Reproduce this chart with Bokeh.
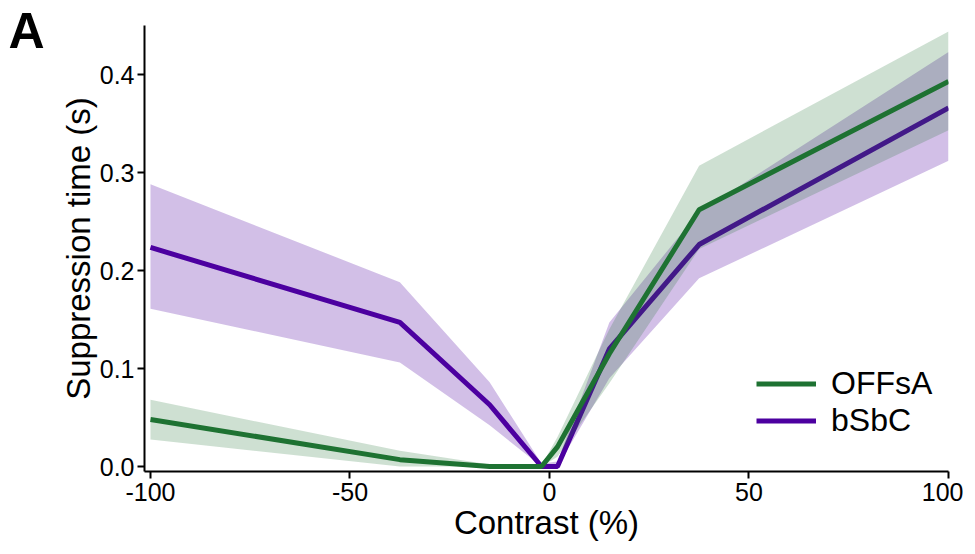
from bokeh.plotting import figure
from bokeh.models import (Range1d, Legend, LegendItem, LinearAxis, FixedTicker,
                          CustomJSTickFormatter)
from bokeh.embed import file_html
from bokeh.resources import INLINE

contrast = [-100, -37.5, -15, -2, 2, 15, 37.5, 100]
offsa_mean = [0.048, 0.007, 0.0, 0.0, 0.02, 0.115, 0.262, 0.393]
offsa_lo = [0.0275, 0.0, 0.0, 0.0, 0.01, 0.085, 0.222, 0.343]
offsa_hi = [0.068, 0.016, 0.002, 0.001, 0.03, 0.14, 0.307, 0.444]
bsbc_mean = [0.2235, 0.147, 0.063, 0.0, 0.0, 0.12, 0.2265, 0.366]
bsbc_lo = [0.161, 0.106, 0.042, 0.0, 0.0, 0.09, 0.192, 0.312]
bsbc_hi = [0.288, 0.188, 0.086, 0.003, 0.005, 0.147, 0.26, 0.423]

x_ticks = [-100, -50, 0, 50, 100]
y_ticks = [0.0, 0.1, 0.2, 0.3, 0.4]
panel_letter = "A"
panel_letter_y = [0.4495]

GREEN = "#1E7232"
PURPLE = "#4C00A0"
FONT = "Liberation Sans"

p = figure(width=963, height=546, output_backend="svg", toolbar_location=None,
           x_range=Range1d(-101.5, 100), y_range=Range1d(-0.0051, 0.45),
           min_border_left=144, min_border_top=25, min_border_right=15, min_border_bottom=75)
p.outline_line_color = None
p.xgrid.visible = False
p.ygrid.visible = False
p.background_fill_color = "white"
p.border_fill_color = "white"

pb = p.varea(x=contrast, y1=bsbc_lo, y2=bsbc_hi, fill_color=PURPLE, fill_alpha=0.25)
pl = p.line(x=contrast, y=bsbc_mean, line_color=PURPLE, line_width=5)
gb = p.varea(x=contrast, y1=offsa_lo, y2=offsa_hi, fill_color=GREEN, fill_alpha=0.22)
gl = p.line(x=contrast, y=offsa_mean, line_color=GREEN, line_width=5)

for ax in (p.xaxis[0], p.yaxis[0]):
    ax.axis_line_width = 2
    ax.axis_line_color = "black"
    ax.major_tick_line_width = 2
    ax.major_tick_line_color = "black"
    ax.major_tick_out = 7
    ax.major_tick_in = 0
    ax.minor_tick_line_color = None
    ax.major_label_text_font = FONT
    ax.major_label_text_font_size = "25px"
    ax.major_label_text_color = "black"
    ax.axis_label_text_font = FONT
    ax.axis_label_text_font_size = "33px"
    ax.axis_label_text_font_style = "normal"
    ax.axis_label_text_color = "black"

p.xaxis[0].ticker = FixedTicker(ticks=x_ticks)
p.yaxis[0].ticker = FixedTicker(ticks=y_ticks)
p.xaxis[0].formatter = CustomJSTickFormatter(code="return String(tick);")
p.yaxis[0].formatter = CustomJSTickFormatter(code="return tick.toFixed(1);")
p.xaxis[0].axis_label = "Contrast (%)"
p.yaxis[0].axis_label = "Suppression time (s)"
p.xaxis[0].major_label_standoff = 4
p.xaxis[0].axis_label_standoff = 0
p.yaxis[0].major_label_standoff = 3
p.yaxis[0].axis_label_standoff = 0

# panel letter "A" drawn as the single label of an invisible outer left axis
letter_axis = LinearAxis(ticker=FixedTicker(ticks=panel_letter_y),
                         formatter=CustomJSTickFormatter(code="return '%s';" % panel_letter),
                         axis_line_color=None, major_tick_line_color=None,
                         minor_tick_line_color=None, major_tick_out=0, major_tick_in=0,
                         major_label_standoff=12,
                         major_label_text_font=FONT, major_label_text_font_size="50px",
                         major_label_text_font_style="bold", major_label_text_color="black")
p.add_layout(letter_axis, "left")

legend = Legend(items=[LegendItem(label="OFFsA", renderers=[gl]),
                       LegendItem(label="bSbC", renderers=[pl])],
                location=(612, 32))
legend.label_text_font = FONT
legend.label_text_font_size = "32px"
legend.label_text_color = "black"
legend.glyph_width = 60
legend.glyph_height = 37
legend.label_height = 37
legend.spacing = 0
legend.padding = 8
legend.label_standoff = 15
legend.border_line_color = None
legend.background_fill_color = "white"
legend.background_fill_alpha = 1.0
p.add_layout(legend, "center")

open("out.html", "w").write(file_html(p, INLINE))
